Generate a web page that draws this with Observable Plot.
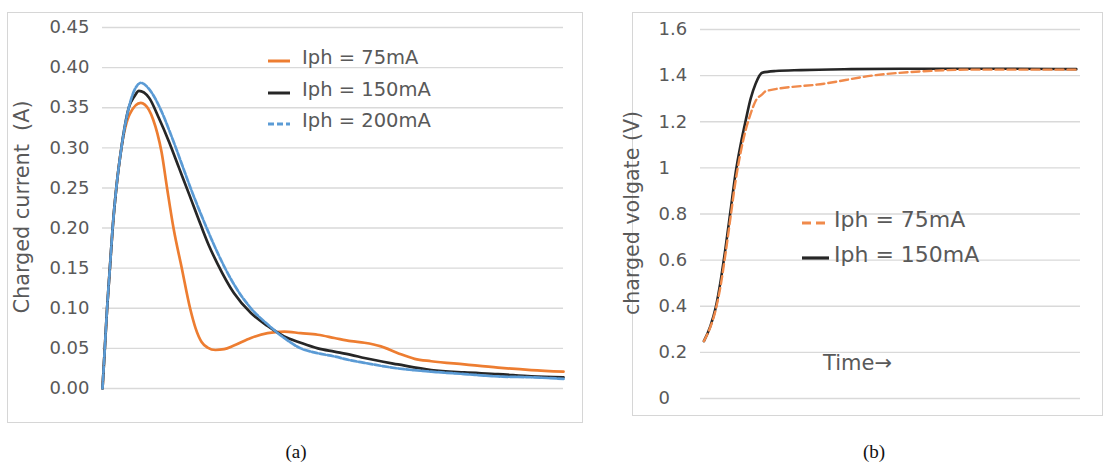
<!DOCTYPE html>
<html><head><meta charset="utf-8">
<script src="https://cdn.jsdelivr.net/npm/d3@7"></script>
<script src="https://cdn.jsdelivr.net/npm/@observablehq/plot@0.6"></script>
<style>
body{margin:0;background:#fff;}
#root{position:relative;width:1105px;height:465px;overflow:hidden;font-family:"DejaVu Sans",sans-serif;color:#595959;}
.box{position:absolute;box-sizing:border-box;border:1px solid #d6d6d6;}
.box svg{position:absolute;left:0;top:0;overflow:visible;}
.abs{position:absolute;white-space:pre;line-height:1;}
</style></head><body><div id="root"></div>
<script>
// ---------- Panel (a): charged current ----------
const seriesNamesA = ["Iph = 75mA", "Iph = 150mA", "Iph = 200mA"];
const seriesColorsA = ["#ED7D31", "#262626", "#5B9BD5"];
const currentTicks = [0, 0.05, 0.10, 0.15, 0.20, 0.25, 0.30, 0.35, 0.40, 0.45];

const time75 = [0, 0.5, 1.0, 1.6, 2.2, 3.0, 4.1, 5.9, 8.3, 10.1, 11.0, 11.9, 12.8, 14.0, 15.4, 17.2, 19.0, 20.2, 21.5, 22.8, 24.5, 26.4, 28.5, 32.2, 35.8, 39.4, 43.0, 46.7, 50.3, 53.9, 56.8, 60.4, 64.1, 67.7, 71.3, 78.5, 85.8, 93.0, 100];
const current75 = [0, 0.05, 0.10, 0.15, 0.20, 0.25, 0.30, 0.342, 0.356, 0.347, 0.335, 0.318, 0.295, 0.25, 0.20, 0.15, 0.10, 0.075, 0.058, 0.051, 0.048, 0.049, 0.0535, 0.063, 0.069, 0.071, 0.069, 0.067, 0.063, 0.059, 0.057, 0.0525, 0.044, 0.037, 0.034, 0.030, 0.026, 0.023, 0.021];

const time150 = [0, 0.5, 1.0, 1.6, 2.2, 3.0, 4.1, 5.7, 7.0, 7.9, 10.1, 12.2, 14.4, 16.6, 18.8, 21.3, 23.1, 24.9, 28.5, 32.2, 35.8, 39.4, 43.0, 46.7, 50.3, 53.9, 56.8, 64.1, 71.3, 78.5, 85.8, 93.0, 100];
const current150 = [0, 0.05, 0.10, 0.15, 0.20, 0.25, 0.30, 0.35, 0.365, 0.371, 0.3625, 0.3375, 0.308, 0.275, 0.242, 0.204, 0.178, 0.156, 0.119, 0.094, 0.078, 0.065, 0.057, 0.050, 0.046, 0.042, 0.038, 0.030, 0.023, 0.020, 0.018, 0.015, 0.014];

const time200 = [0, 0.5, 1.0, 1.6, 2.2, 3.0, 4.1, 5.7, 7.2, 8.3, 10.4, 12.6, 14.8, 17.0, 19.1, 21.3, 23.5, 24.9, 28.5, 32.2, 35.8, 39.4, 43.0, 46.7, 50.3, 53.9, 56.8, 64.1, 71.3, 78.5, 85.8, 93.0, 100];
const current200 = [0, 0.05, 0.10, 0.15, 0.20, 0.25, 0.30, 0.35, 0.375, 0.381, 0.371, 0.348, 0.317, 0.283, 0.25, 0.218, 0.188, 0.170, 0.130, 0.100, 0.080, 0.063, 0.050, 0.044, 0.040, 0.035, 0.032, 0.025, 0.021, 0.018, 0.015, 0.014, 0.012];

// ---------- Panel (b): charged voltage ----------
const seriesNamesB = ["Iph = 75mA", "Iph = 150mA"];
const seriesColorsB = ["#F08A4B", "#262626"];
const voltageTicks = [0, 0.2, 0.4, 0.6, 0.8, 1.0, 1.2, 1.4, 1.6];

const vTime75 = [0.9, 2.6, 4.0, 5.3, 6.6, 7.9, 9.2, 10.6, 11.9, 13.2, 14.5, 16.3, 17.2, 32.5, 45.6, 58.8, 72.0, 98.9];
const voltage75 = [0.249, 0.31, 0.385, 0.49, 0.63, 0.785, 0.94, 1.07, 1.165, 1.235, 1.29, 1.32, 1.333, 1.365, 1.401, 1.419, 1.426, 1.426];

const vTime150 = [0.9, 2.6, 4.0, 5.3, 6.6, 7.9, 9.2, 10.6, 11.9, 13.2, 14.5, 16.3, 19.8, 26.4, 39.6, 52.8, 79.2, 98.9];
const voltage150 = [0.249, 0.314, 0.394, 0.51, 0.655, 0.814, 0.974, 1.104, 1.206, 1.30, 1.365, 1.413, 1.42, 1.424, 1.428, 1.43, 1.43, 1.428];

const toRows = (ts, vs) => ts.map((t, i) => ({t, v: vs[i]}));

const root = document.getElementById("root");
function el(tag, cls, style, text) {
  const e = document.createElement(tag);
  if (cls) e.className = cls;
  Object.assign(e.style, style);
  if (text != null) e.textContent = text;
  root.appendChild(e);
  return e;
}

// ---- Panel (a) ----
const boxA = el("div", "box", {left: "7px", top: "12px", width: "576px", height: "411px"});
const plotA = Plot.plot({
  width: 574, height: 409,
  marginLeft: 94, marginRight: 19, marginTop: 14, marginBottom: 34,
  x: {domain: [0, 100], axis: null},
  y: {domain: [0, 0.45], axis: null},
  style: {background: "transparent", fontFamily: "DejaVu Sans", overflow: "visible"},
  marks: [
    Plot.ruleY(currentTicks, {stroke: "#d9d9d9", strokeWidth: 1.4}),
    Plot.text(currentTicks, {y: d => d, text: d => d.toFixed(2), frameAnchor: "left", textAnchor: "end", dx: -13, fontSize: 18, fill: "#595959"}),
    Plot.line(toRows(time75, current75), {x: "t", y: "v", stroke: seriesColorsA[0], strokeWidth: 2.7, curve: "monotone-x"}),
    Plot.line(toRows(time150, current150), {x: "t", y: "v", stroke: seriesColorsA[1], strokeWidth: 2.7, curve: "monotone-x"}),
    Plot.line(toRows(time200, current200), {x: "t", y: "v", stroke: seriesColorsA[2], strokeWidth: 2.7, strokeDasharray: "6,2", curve: "monotone-x"})
  ]
});
boxA.appendChild(plotA);

el("div", "abs", {left: "22px", top: "207px", fontSize: "20.8px", transform: "translate(-50%,-50%) rotate(-90deg)"}, "Charged current  (A)");

const dashesA = [null, null, "6,3"];
seriesNamesA.forEach((name, i) => {
  const cy = 58 + i * 31.5;
  const s = el("div", "abs", {left: "268px", top: (cy - 5) + "px", width: "22px", height: "10px"});
  s.innerHTML = `<svg width="22" height="10"><line x1="0" x2="22" y1="5" y2="5" stroke="${seriesColorsA[i]}" stroke-width="3" ${dashesA[i] ? `stroke-dasharray="${dashesA[i]}"` : ""}/></svg>`;
  el("div", "abs", {left: "302px", top: cy + "px", fontSize: "19.5px", transform: "translateY(-50%)"}, name);
});

// ---- Panel (b) ----
const boxB = el("div", "box", {left: "632px", top: "12px", width: "471px", height: "404px"});
const plotB = Plot.plot({
  width: 469, height: 402,
  marginLeft: 67, marginRight: 22, marginTop: 16, marginBottom: 17,
  x: {domain: [0, 100], axis: null},
  y: {domain: [0, 1.6], axis: null},
  style: {background: "transparent", fontFamily: "DejaVu Sans", overflow: "visible"},
  marks: [
    Plot.ruleY(voltageTicks, {stroke: "#d9d9d9", strokeWidth: 1.4}),
    Plot.text(voltageTicks, {y: d => d, text: d => String(+d.toFixed(1)), frameAnchor: "left", textAnchor: "start", dx: -42, fontSize: 18, fill: "#595959"}),
    Plot.line(toRows(vTime150, voltage150), {x: "t", y: "v", stroke: seriesColorsB[1], strokeWidth: 2.6, curve: "monotone-x"}),
    Plot.line(toRows(vTime75, voltage75), {x: "t", y: "v", stroke: seriesColorsB[0], strokeWidth: 2.4, strokeDasharray: "8,4", curve: "monotone-x"})
  ]
});
boxB.appendChild(plotB);

el("div", "abs", {left: "632px", top: "213px", fontSize: "20.6px", transform: "translate(-50%,-50%) rotate(-90deg)"}, "charged volgate (V)");

const dashesB = ["9,5", null];
seriesNamesB.forEach((name, i) => {
  const cy = 220 + i * 35;
  const s = el("div", "abs", {left: "802px", top: (cy - 5) + "px", width: "27px", height: "10px"});
  s.innerHTML = `<svg width="27" height="10"><line x1="0" x2="27" y1="5" y2="5" stroke="${seriesColorsB[i]}" stroke-width="3.2" ${dashesB[i] ? `stroke-dasharray="${dashesB[i]}"` : ""}/></svg>`;
  el("div", "abs", {left: "834px", top: cy + "px", fontSize: "22px", transform: "translateY(-50%)"}, name);
});

el("div", "abs", {left: "823px", top: "363px", fontSize: "21px", transform: "translateY(-50%)"}, "Time\u2192");

// ---- Captions ----
el("div", "abs", {left: "296px", top: "452px", fontSize: "19px", lineHeight: "1.1", color: "#111", fontFamily: "'Liberation Serif', serif", transform: "translate(-50%,-50%)"}, "(a)");
el("div", "abs", {left: "874px", top: "452px", fontSize: "19px", lineHeight: "1.1", color: "#111", fontFamily: "'Liberation Serif', serif", transform: "translate(-50%,-50%)"}, "(b)");
</script>
</body></html>
